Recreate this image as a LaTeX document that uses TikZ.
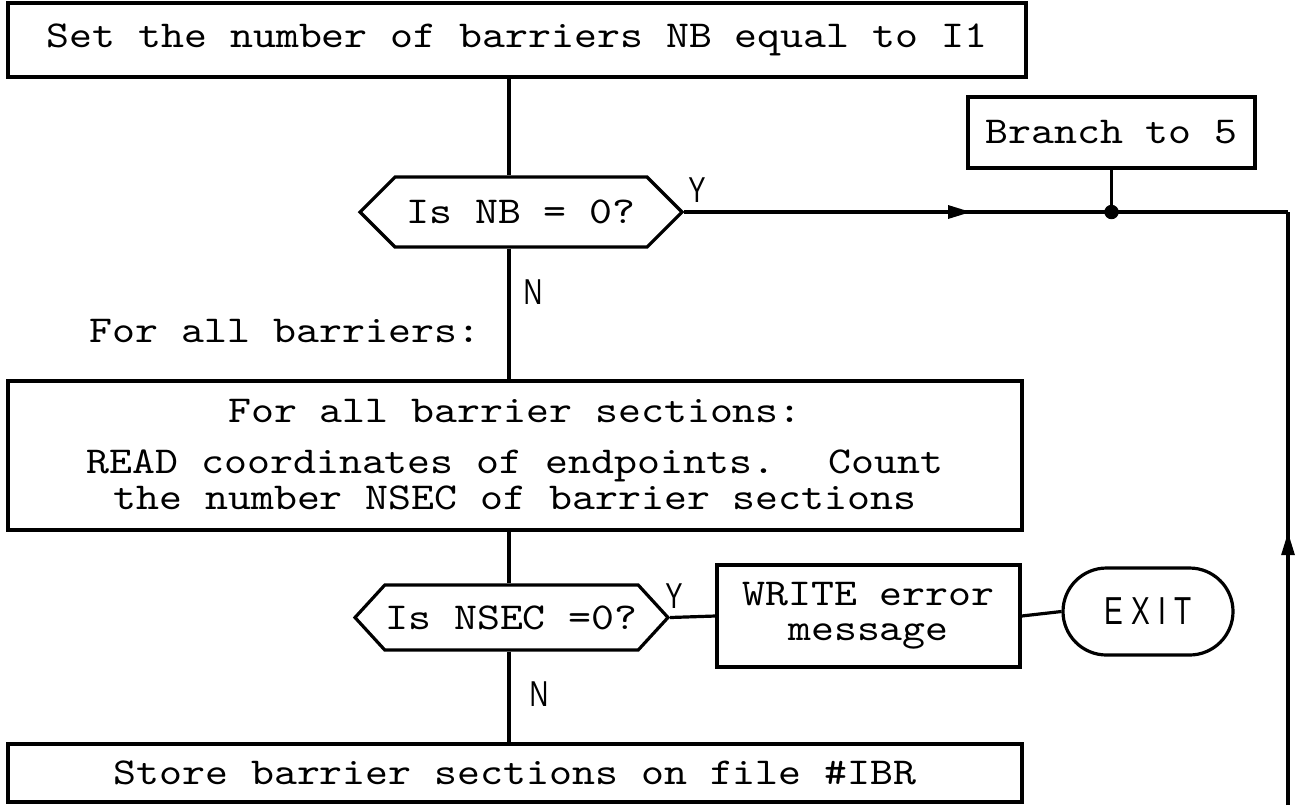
\documentclass[tikz,border=0pt]{standalone}
\usepackage{fontspec}
\newfontfamily\flagfont[FakeStretch=0.72]{Liberation Sans}
\newfontfamily\typefont{lmmono10-regular}[Extension=.otf,FakeStretch=1.15]
\usetikzlibrary{shapes.symbols,shapes.misc,arrows.meta,decorations.markings,positioning}
\newcommand\typeface{\typefont\fontsize{19}{17.5}\selectfont}
\newcommand\tightlines{\lineskiplimit=-50pt\relax}

\begin{document}
\begin{tikzpicture}[x=0.5pt,y=-0.5pt,line width=1.6pt,
            box/.style={rectangle,draw=black,inner sep=0pt,align=center,font={\typeface}},
            test/.style={signal,signal to=west and east,signal pointer angle=90,draw=black,inner sep=0pt,font={\typeface}},
            plain/.style={inner sep=0pt,align=center,font={\typefont\fontsize{19}{18}\selectfont\tightlines}},
            flag/.style={inner sep=0pt,font={\flagfont\fontsize{18}{18}\selectfont}},
            midarrow/.style={postaction={decorate},decoration={markings,mark=at position #1 with {\arrow{Triangle[length=11.5pt,width=6.5pt]}}}}]

   \useasboundingbox (0,0) rectangle (1305,805);

   % main column
   \coordinate (spine) at (509,0);
   \node[box,minimum width=509pt,minimum height=37pt] (set) at (517,40) {Set the number of barriers NB equal to I1};
   \node[test,minimum width=161pt,minimum height=35pt] (isnb) at (521,212) {Is NB = 0?};
   \node[plain] (forall) at (285,331) {For all barriers:};
   \node[box,minimum width=507pt,minimum height=74.5pt] (sections) at (515,455.5) {};
   \node[plain] (sectext) at (515,455) {For all barrier sections:\\[7.5pt]READ coordinates of endpoints.~ Count\\the number NSEC of barrier sections};
   \node[test,signal pointer angle=95,minimum width=156.5pt,minimum height=32.5pt] (isnsec) at (511.5,617.5) {Is NSEC =0?};
   \node[box,minimum width=507pt,minimum height=29pt] (store) at (515,773) {Store barrier sections on file \#IBR};

   % side branches
   \node[box,minimum width=143.5pt,minimum height=35.5pt] (branch) at (1111.5,132.5) {Branch to 5};
   \node[box,minimum width=151.5pt,minimum height=51pt] (write) at (868.5,616) {WRITE error\\message};
   \node[draw=black,rounded corners=21.75pt,minimum width=85pt,minimum height=43.5pt,inner sep=0pt,font={\flagfont\fontsize{19.5}{20}\selectfont}] (exit) at (1148,611.5) {E\kern4pt X\kern4pt I\kern4pt T};

   % Y / N flags
   \node[flag] (y1) at (697,190) {Y};
   \node[flag] (n1) at (533,292) {N};
   \node[flag] (y2) at (674,596) {Y};
   \node[flag] (n2) at (539,694) {N};

   % connectors
   \draw (set.south -| spine) -- (isnb.north -| spine);
   \draw (isnb.south -| spine) -- (sections.north -| spine);
   \draw (sections.south -| spine) -- (isnsec.north -| spine);
   \draw (isnsec.south -| spine) -- (store.north -| spine);
   \draw (isnsec.east) -- (write.west);
   \draw (write.east) -- (exit.west);

   % return line to the branch
   \coordinate (loopin) at (1288,805);
   \coordinate (corner) at (isnb.east -| loopin);
   \coordinate (join) at (isnb.east -| branch.south);
   \draw[midarrow=0.475] (isnb.east) -- (corner);
   \draw[midarrow=0.46] (loopin) -- (corner);
   \draw (branch.south) -- (join);
   \fill (join) circle[radius=3.6pt];
\end{tikzpicture}
\end{document}
